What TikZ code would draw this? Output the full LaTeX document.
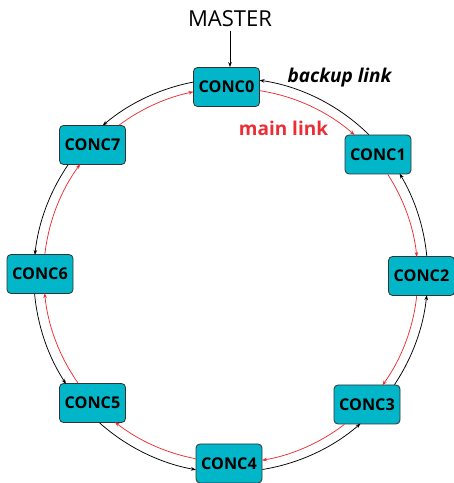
\documentclass[tikz,border=0pt]{standalone}
\usepackage{fontspec}
\setmainfont{Open Sans}
\usetikzlibrary{arrows.meta}
\definecolor{conc}{RGB}{0,182,200}
\definecolor{mainred}{RGB}{236,46,52}
\tikzset{
  conc/.style={draw=black!80, line width=0.8pt, fill=conc, rounded corners=4pt,
    minimum width=66pt, minimum height=39pt, inner sep=0pt, font=\fontsize{16.2}{20}\selectfont\bfseries},
  tip/.style={-{Stealth[length=5pt,width=3.6pt]}},
  blk/.style={tip, draw=black, line width=0.75pt},
  red/.style={tip, draw=mainred, line width=0.75pt},
}
\begin{document}
\begin{tikzpicture}[x=1pt,y=1pt]
\useasboundingbox (0,0) rectangle (454,483);
\node[conc] (c0) at (226.5,396) {CONC0};
\node[conc] (c1) at (378,328.5) {CONC1};
\node[conc] (c2) at (421.5,207) {CONC2};
\node[conc] (c3) at (367,78.5) {CONC3};
\node[conc] (c4) at (229,19.5) {CONC4};
\node[conc] (c5) at (92.5,80) {CONC5};
\node[conc] (c6) at (40,209) {CONC6};
\node[conc] (c7) at (92.5,338) {CONC7};
\node[font=\fontsize{22}{26}\selectfont] (master) at (230,464) {MASTER};
\draw[blk] (master.south) -- (master.south |- c0.north);
% backup link (black, counterclockwise)
\draw[blk] ([xshift=-9.2pt]c1.north) arc[start angle=45.5, end angle=81.6, radius=197];
\draw[blk] ([yshift=4.9pt]c0.west) arc[start angle=100.9, end angle=130.4, radius=197];
\draw[blk] ([xshift=-24.5pt]c7.south) arc[start angle=145.7, end angle=173.88, radius=197];
\draw[blk] ([xshift=-5.4pt]c6.south) arc[start angle=185.24, end angle=213.24, radius=197];
\draw[blk] ([xshift=7.1pt]c5.south) arc[start angle=228.3, end angle=259.84, radius=197];
\draw[blk] ([yshift=-6pt]c4.east) arc[start angle=279.13, end angle=311.07, radius=197];
\draw[blk] ([xshift=27.5pt]c3.north) arc[start angle=326.24, end angle=354.17, radius=197];
\draw[blk] ([xshift=5.3pt]c2.north) arc[start angle=5.53, end angle=31.0, radius=197];
% main link (red, clockwise)
\draw[red] ([yshift=-3.7pt]c0.east) arc[start angle=81.16, end angle=48.7, radius=187];
\draw[red] ([xshift=9.8pt]c1.south) arc[start angle=32.9, end angle=5.83, radius=187];
\draw[red] ([xshift=-4.8pt]c2.south) arc[start angle=-6.14, end angle=-35.84, radius=187];
\draw[red] ([xshift=-22.6pt]c3.south) arc[start angle=-52.56, end angle=-80.38, radius=187];
\draw[red] ([yshift=4.8pt]c4.west) arc[start angle=-100.71, end angle=-128.18, radius=187];
\draw[red] ([xshift=-14.4pt]c5.north) arc[start angle=215.27, end angle=185.52, radius=187];
\draw[red] ([xshift=4.9pt]c6.north) arc[start angle=173.55, end angle=143.59, radius=187];
\draw[red] ([xshift=26.6pt]c7.north) arc[start angle=126.67, end angle=101.49, radius=187];
\node[font=\fontsize{19}{22}\selectfont\bfseries\itshape] (backup) at (339.5,405) {backup link};
\node[font=\fontsize{19}{22}\selectfont\bfseries, text=mainred] (mainlbl) at (283.5,354.5) {main link};
\end{tikzpicture}
\end{document}
